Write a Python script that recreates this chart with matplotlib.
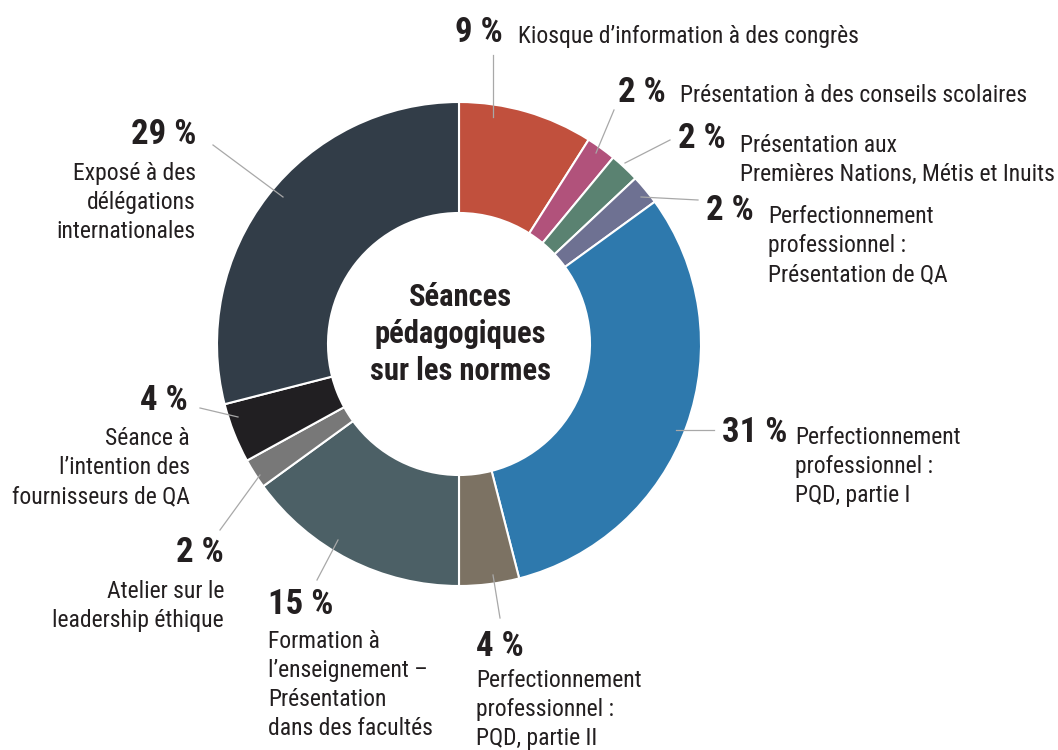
import matplotlib
matplotlib.use("Agg")
import matplotlib.pyplot as plt
from matplotlib import font_manager

installed = {f.name for f in font_manager.fontManager.ttflist}
for fam in ["Liberation Sans Narrow", "Arial Narrow", "Roboto Condensed",
            "PT Sans Narrow", "Archivo Narrow", "Sofia Sans Condensed", "Liberation Sans"]:
    if fam in installed:
        break
plt.rcParams['font.family'] = [fam, 'DejaVu Sans']

# data
shares = [9, 2, 2, 2, 31, 4, 15, 2, 4, 29]
names = [
    "Kiosque d\u2019information à des congrès",
    "Présentation à des conseils scolaires",
    "Présentation aux\nPremières Nations, Métis et Inuits",
    "Perfectionnement\nprofessionnel :\nPrésentation de QA",
    "Perfectionnement\nprofessionnel :\nPQD, partie I",
    "Perfectionnement\nprofessionnel :\nPQD, partie II",
    "Formation à\nl\u2019enseignement \u2013\nPrésentation\ndans des facultés",
    "Atelier sur le\nleadership éthique",
    "Séance à\nl\u2019intention des\nfournisseurs de QA",
    "Exposé à des\ndélégations\ninternationales",
]
colors = ["#C1503D", "#B1527B", "#5A8271", "#6E7192", "#2E79AD",
          "#7C7263", "#4C6066", "#787878", "#211F22", "#323D48"]
center_title = "Séances\npédagogiques\nsur les normes"

# layout (pixel coords, y down)
cx, cy, r_out, r_in = 459, 344, 242, 131
# (pct x, pct y, pct ha, label x, label y, label ha, label va, leader start, leader end)
layout = [
    (455, 33, "left", 518, 37, "left", "center", (493, 117), (493, 55)),
    (618, 93, "left", 680, 96, "left", "center", (596, 153), (614, 110)),
    (678, 139, "left", 740, 134, "left", "top", (625, 163), (670, 140)),
    (706, 211, "left", 768, 205, "left", "top", (641, 197), (698, 200)),
    (722, 432, "left", 795, 426, "left", "top", (676, 430), (714, 430)),
    (476, 646, "left", 476, 669, "left", "top", (493, 575), (500, 618)),
    (268, 604, "left", 268, 630, "left", "top", (338, 540), (317, 580)),
    (224, 553, "right", 224, 580, "right", "top", (260, 475), (220, 530)),
    (188, 400, "right", 190, 427, "right", "top", (238, 417), (200, 408)),
    (196, 135, "right", 196, 162, "right", "top", (283, 197), (213, 145)),
]

fig = plt.figure(figsize=(10.58, 7.5), dpi=100)
ax = fig.add_axes([0, 0, 1, 1])

ax.pie(shares, colors=colors, startangle=-90, counterclock=True,
       center=(cx, cy), radius=r_out,
       wedgeprops=dict(width=r_out - r_in, edgecolor="white", linewidth=1.5))

txt = "#231F20"
for s, name, lay in zip(shares, names, layout):
    px, py, pha, lx, ly, lha, lva, a, b = lay
    ax.plot([a[0], b[0]], [a[1], b[1]], color="#A8A8A8", lw=0.9, zorder=3)
    ax.text(px, py, f"{s} %", ha=pha, va="center", fontsize=25,
            fontweight="bold", color=txt)
    ax.text(lx, ly, name, ha=lha, va=lva, fontsize=17, color=txt,
            linespacing=1.33, multialignment=lha)

ax.text(cx + 1, cy - 10, center_title, ha="center", va="center", fontsize=22,
        fontweight="bold", color=txt, linespacing=1.3)

ax.set_xlim(0, 1058)
ax.set_ylim(750, 0)
ax.set_aspect("equal")
ax.axis("off")
fig.savefig("out.png", dpi=100, facecolor="white")
